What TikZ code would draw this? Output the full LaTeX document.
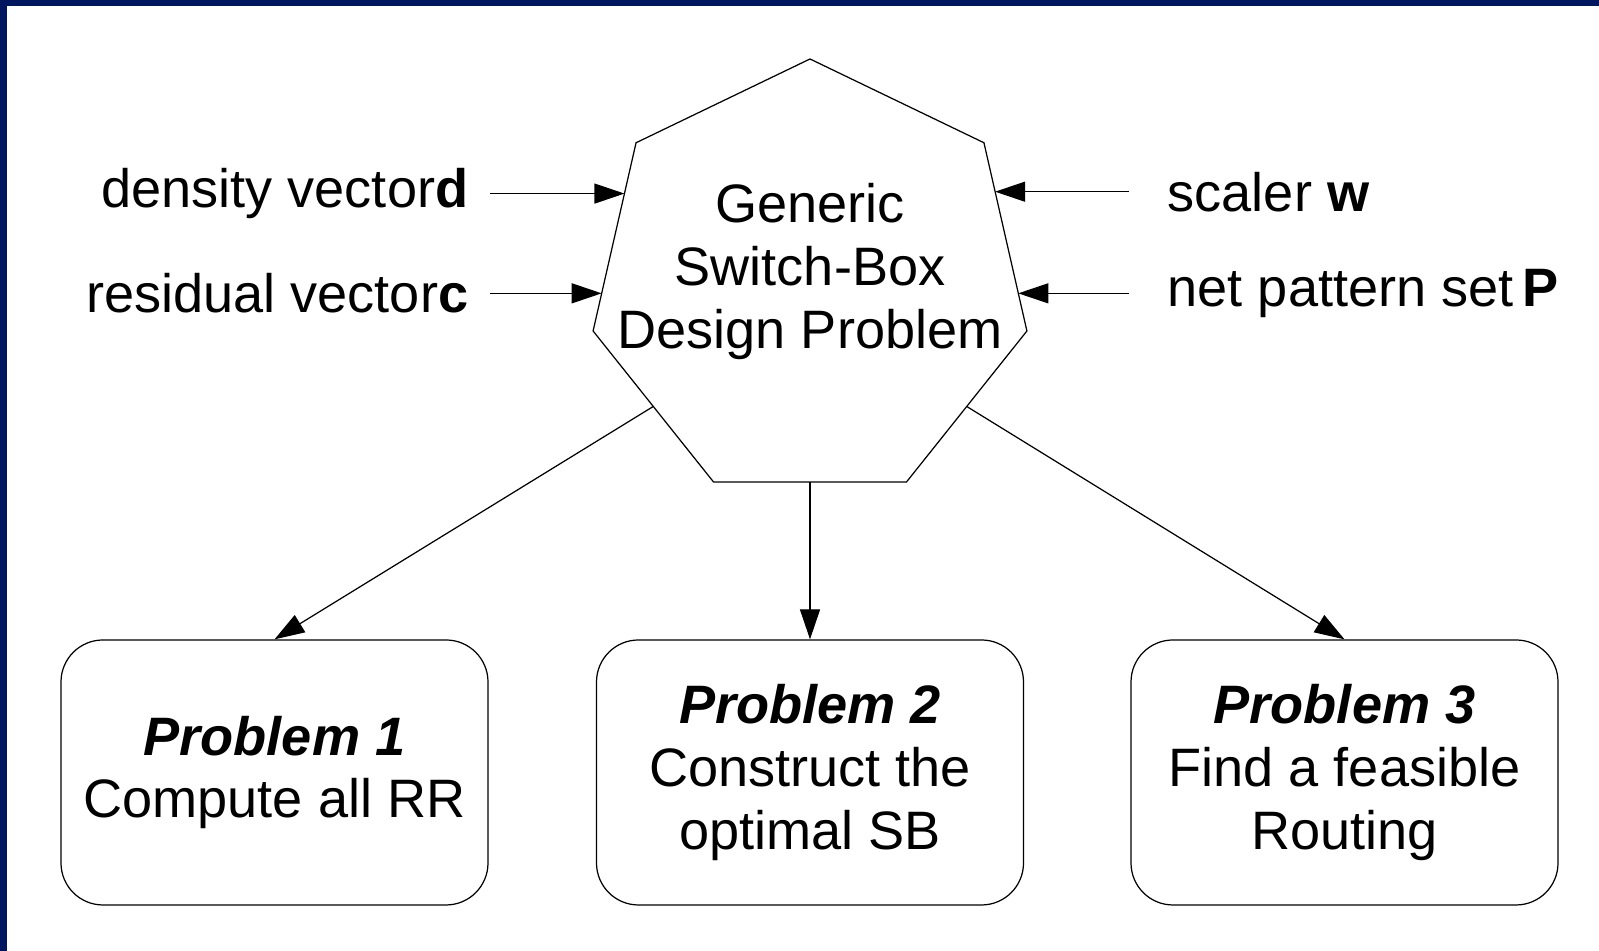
\documentclass[tikz,border=0pt]{standalone}
\usepackage{fontspec}
\setmainfont{Liberation Sans}
\usetikzlibrary{shapes.geometric,arrows.meta,calc,positioning}

\definecolor{framenavy}{RGB}{0,22,94}

\begin{document}
\begin{tikzpicture}[
    font=\fontsize{15.4}{17.9}\selectfont,
    arr/.style={-{Triangle[length=3mm,width=2mm]}, line width=0.35pt},
    probbox/.style={draw, rounded corners=0.42cm, minimum width=4.27cm, minimum height=2.65cm, align=center, line width=0.35pt},
    inlabel/.style={inner xsep=0.21cm, inner ysep=0pt},
    outlabel/.style={inner xsep=0.38cm, inner ysep=0pt}
]
    % page with the frame on top and left
    \fill [white] (0,0) rectangle (15.99,9.51);
    \fill [framenavy] (0,9.45) rectangle (15.99,9.51);
    \fill [framenavy] (0,0) rectangle (0.07,9.51);
    \useasboundingbox (0,0) rectangle (15.99,9.51);

    \node (gsb) [draw, regular polygon, regular polygon sides=7, minimum size=4.45cm, inner sep=0pt, outer sep=0pt, line width=0.35pt] at (8.10,6.695) {};
    \node (gsbtext) [align=center] at ([yshift=0.1cm]gsb.center) {Generic\\Switch-Box\\Design Problem};

    \coordinate (ltail) at (4.90,0);
    \coordinate (rtail) at (11.29,0);

    % inputs hit the slanted sides
    \coordinate (din) at ($(gsb.corner 2)!0.27!(gsb.corner 3)$);
    \coordinate (cin) at ($(gsb.corner 2)!0.80!(gsb.corner 3)$);
    \coordinate (win) at ($(gsb.corner 7)!0.26!(gsb.corner 6)$);
    \coordinate (pin) at ($(gsb.corner 7)!0.80!(gsb.corner 6)$);

    \node (dvec) [inlabel, left] at (din -| ltail) {density vector\textbf{d}};
    \node (cvec) [inlabel, left] at (cin -| ltail) {residual vector\textbf{c}};
    \node (wscal) [outlabel, right] at (win -| rtail) {scaler \textbf{w}};
    \node (pset) [outlabel, right] at (pin -| rtail) {net pattern set\,\textbf{P}};

    \draw [arr] (dvec) -- (din);
    \draw [arr] (cvec) -- (cin);
    \draw [arr] (wscal) -- (win);
    \draw [arr] (pset) -- (pin);

    \node (prob1) [probbox] at (2.745,1.785) {\textbf{\textit{Problem 1}}\\Compute all RR};
    \node (prob2) [probbox] at (8.10,1.785) {\textbf{\textit{Problem 2}}\\Construct the\\optimal SB};
    \node (prob3) [probbox] at (13.445,1.785) {\textbf{\textit{Problem 3}}\\Find a feasible\\Routing};

    \draw [arr] (gsb.side 3) -- (prob1.north);
    \draw [arr] (gsb.side 4) -- (prob2.north);
    \draw [arr] (gsb.side 5) -- (prob3.north);
\end{tikzpicture}
\end{document}
